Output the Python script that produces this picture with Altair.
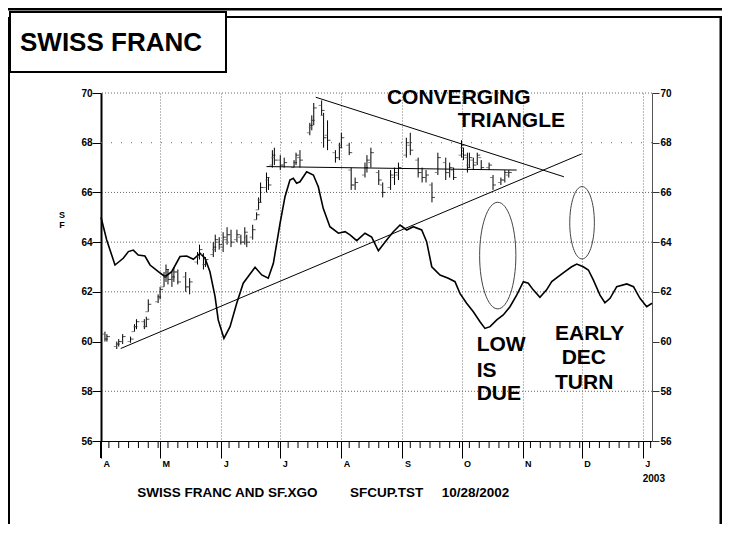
import altair as alt
import pandas as pd

BASE = pd.Timestamp("2002-04-01")


def to_dt(days):
    return [(BASE + pd.Timedelta(days=float(d))).strftime("%Y-%m-%dT%H:%M:%S") for d in days]


# ---------------- data ----------------
bar_day = [2, 3, 8, 9, 11, 15, 17, 18, 22, 23, 24, 29, 30, 32, 33, 34, 36, 37, 39, 43,
           45, 49, 50, 52, 53, 57, 58, 60, 62, 64, 66, 69, 71, 73, 74, 77, 79, 80, 81, 84,
           85, 87, 88, 91, 93, 98, 99, 101, 106, 107, 108, 112, 113, 115, 119, 121, 122, 126, 127, 129,
           134, 135, 137, 141, 143, 147, 149, 151, 155, 157, 161, 163, 165, 168, 171, 175, 177, 179, 183, 184,
           186, 187, 189, 191, 193, 197, 199, 203, 205, 207]
bar_high = [60.4, 60.3, 60.0, 60.1, 60.3, 60.2, 60.7, 60.9, 60.9, 61.0, 61.7, 61.9, 62.2, 62.8, 63.1, 62.9, 62.8, 63.0, 62.9, 62.8,
            62.55, 63.6, 63.9, 63.56, 63.4, 64.0, 64.3, 64.2, 64.4, 64.6, 64.5, 64.5, 64.3, 64.6, 64.3, 64.7, 65.2, 65.8, 66.4, 66.8,
            66.6, 67.7, 67.8, 67.5, 67.4, 67.3, 67.6, 67.7, 68.8, 69.1, 69.6, 69.7, 69.2, 68.9, 67.7, 68.0, 68.4, 68.0, 67.0, 66.6,
            67.2, 67.5, 67.8, 66.9, 66.4, 66.9, 67.0, 67.2, 68.2, 68.4, 67.4, 67.0, 66.9, 66.4, 67.6, 67.4, 67.2, 67.0, 68.1, 67.8,
            67.6, 67.6, 67.4, 67.6, 67.3, 67.2, 66.7, 66.6, 66.9, 66.9]
bar_low = [60.0, 60.0, 59.7, 59.8, 59.9, 59.95, 60.4, 60.5, 60.5, 60.6, 61.2, 61.55, 61.7, 62.2, 62.4, 62.3, 62.2, 62.4, 62.3, 62.0,
           61.9, 63.1, 63.3, 62.9, 63.0, 63.4, 63.6, 63.7, 63.6, 63.9, 63.8, 64.0, 63.9, 63.9, 63.8, 64.1, 64.9, 65.3, 65.6, 66.0,
           66.1, 67.0, 67.1, 66.9, 67.0, 67.0, 67.1, 67.0, 68.3, 68.5, 68.7, 69.1, 67.8, 67.7, 67.2, 67.3, 67.8, 67.5, 66.1, 66.1,
           66.6, 66.8, 67.0, 66.3, 65.8, 66.1, 66.3, 66.5, 67.4, 67.5, 66.6, 66.4, 66.4, 65.6, 66.7, 66.5, 66.6, 66.5, 67.4, 67.3,
           66.8, 67.0, 66.9, 67.1, 66.9, 66.9, 66.1, 66.3, 66.4, 66.6]
bar_open = [60.3, 60.1, 59.8, 59.9, 60.0, 60.0, 60.4, 60.6, 60.8, 60.6, 61.2, 61.6, 61.8, 62.2, 62.6, 62.8, 62.5, 62.5, 62.8, 62.6,
            62.2, 63.2, 63.4, 63.5, 63.1, 63.5, 63.7, 64.0, 63.8, 64.1, 64.3, 64.1, 64.2, 64.0, 64.2, 64.2, 64.9, 65.3, 65.7, 66.2,
            66.5, 67.1, 67.4, 67.3, 67.1, 67.0, 67.2, 67.4, 68.4, 68.6, 68.9, 69.5, 69.1, 68.3, 67.6, 67.4, 67.9, 67.9, 66.9, 66.3,
            66.7, 67.0, 67.2, 66.8, 66.3, 66.2, 66.6, 66.7, 67.5, 67.9, 67.3, 66.8, 66.6, 66.3, 66.8, 67.2, 66.8, 66.9, 67.5, 67.8,
            67.4, 67.1, 67.3, 67.2, 67.4, 67.0, 66.6, 66.4, 66.5, 66.7]
bar_close = [60.1, 60.2, 59.9, 60.0, 60.2, 60.1, 60.6, 60.8, 60.6, 60.9, 61.5, 61.8, 62.1, 62.6, 62.9, 62.5, 62.6, 62.8, 62.4, 62.2,
             62.4, 63.5, 63.7, 63.1, 63.3, 63.8, 64.1, 63.9, 64.2, 64.3, 64.0, 64.3, 64.0, 64.4, 64.0, 64.5, 65.1, 65.6, 66.2, 66.6,
             66.3, 67.5, 67.3, 67.1, 67.2, 67.2, 67.5, 67.3, 68.7, 68.9, 69.4, 69.3, 68.2, 68.1, 67.4, 67.8, 68.2, 67.6, 66.3, 66.4,
             67.0, 67.3, 67.6, 66.5, 66.0, 66.7, 66.8, 67.0, 68.0, 67.7, 66.8, 66.6, 66.7, 65.8, 67.4, 66.8, 67.0, 66.6, 67.9, 67.5,
             67.0, 67.4, 67.1, 67.5, 67.0, 67.1, 66.3, 66.5, 66.8, 66.8]

osc_day = [0, 2.9, 7.1, 11.3, 13.9, 16.4, 18.9, 22.3, 24.9, 29.1, 32.5, 35.9, 40.1, 43.5, 46.9, 50.3, 52.8, 55.3,
           57.9, 59.5, 62.4, 65.5, 68.9, 72.2, 78.2, 81.6, 84.9, 87.5, 90.9, 93.4, 95.9, 97.6, 99.3, 101.0, 104.4,
           107.8, 110.3, 112.8, 116.2, 120.5, 123.9, 126.4, 129.8, 134.0, 137.4, 140.8, 145.0, 148.4, 151.8, 155.2,
           158.5, 162.8, 165.3, 167.9, 172.1, 176.3, 179.7, 182.2, 185.6, 189.0, 192.4, 194.9, 197.5, 200.9, 204.2,
           207.6, 211.0, 214.4, 216.9, 219.4, 222.8, 226.2, 228.8, 232.1, 235.5, 238.9, 241.5, 244.8, 247.4, 249.9,
           253.3, 255.8, 258.4, 261.8, 266.9, 270.3, 273.6, 277.0, 279.7]
osc_val = [65.0, 64.09, 63.08, 63.35, 63.62, 63.68, 63.48, 63.44, 63.08, 62.81, 62.61, 62.81, 63.42, 63.44, 63.31, 63.55, 63.35, 62.81,
           61.81, 60.87, 60.13, 60.6, 61.54, 62.35, 62.99, 62.68, 62.55, 63.15, 64.76, 65.83, 66.5, 66.57, 66.37, 66.43, 66.83,
           66.70, 66.23, 65.36, 64.62, 64.36, 64.42, 64.29, 64.06, 64.36, 64.2, 63.65, 64.09, 64.42, 64.69, 64.49,
           64.62, 64.49, 64.02, 63.01, 62.68, 62.55, 62.41, 61.94, 61.54, 61.2, 60.8, 60.53, 60.6, 60.87, 61.07,
           61.4, 61.87, 62.41, 62.35, 62.08, 61.78, 62.08, 62.41, 62.61, 62.81, 63.01, 63.12, 63.01, 62.88, 62.48,
           61.87, 61.56, 61.74, 62.21, 62.32, 62.21, 61.74, 61.4, 61.54]

# hand-drawn trend lines (start/end)
rise_day = [10, 244]
rise_val = [59.72, 67.55]
fall_day = [109, 235]
fall_val = [69.83, 66.63]
flat_day = [84, 211]
flat_val = [67.04, 66.90]

# ellipse centres
ell1_day = [201.4]
ell1_val = [63.46]
ell2_day = [244.2]
ell2_val = [64.78]

y_ticks = [56, 58, 60, 62, 64, 66, 68, 70]
grid_dense = [58, 62, 64, 66, 70]
grid_sparse = [68]
month_list = [(2002, 4), (2002, 5), (2002, 6), (2002, 7), (2002, 8), (2002, 9),
              (2002, 10), (2002, 11), (2002, 12), (2003, 1)]
minor_days = [5, 10, 15, 20, 25, 30]
year_label = ["2003"]
year_label_date = ["2003-01-01T00:00:00"]

# ---------------- frames ----------------
FONT = "Liberation Sans"
W, H = 551, 348

bars = pd.DataFrame({"d": to_dt(bar_day), "hi": bar_high, "lo": bar_low,
                     "op": bar_open, "cl": bar_close})
osc = pd.DataFrame({"d": to_dt(osc_day), "v": osc_val})

minor_dates = []
for (yy, mm) in month_list:
    for dd in minor_days:
        try:
            ts = pd.Timestamp(year=yy, month=mm, day=dd)
        except ValueError:
            continue
        if ts <= pd.Timestamp("2003-01-05T16:00"):
            minor_dates.append(ts.strftime("%Y-%m-%dT%H:%M:%S"))
minor = pd.DataFrame({"d": minor_dates})

xscale = alt.Scale(domain=[alt.DateTime(year=2002, month=4, date=1),
                           alt.DateTime(year=2003, month=1, date=5, hours=16, minutes=48)])
yscale = alt.Scale(domain=[56, 70], nice=False, zero=False)

xaxis = alt.Axis(values=[alt.DateTime(year=yy, month=mm, date=1) for (yy, mm) in month_list],
                 labelExpr="upper(slice(timeFormat(datum.value, '%b'), 0, 1))",
                 labelAlign="left", labelBaseline="top", labelOffset=2, labelPadding=1,
                 labelFont=FONT, labelFontSize=9, labelFontWeight="bold", labelColor="black",
                 tickSize=17, tickColor="black", tickWidth=1,
                 domainColor="black", domainWidth=1,
                 grid=True, gridColor="#777", gridDash=[1, 2], gridWidth=1, title=None)

left_axis = alt.Axis(values=y_ticks, orient="left", tickSize=9, labelPadding=0,
                     labelFont=FONT, labelFontSize=10, labelFontWeight="bold", labelColor="black",
                     domainColor="black", domainWidth=2, tickColor="black", tickWidth=1,
                     grid=False, title=None)
right_axis = alt.Axis(values=y_ticks, orient="right", tickSize=7, labelPadding=1,
                      labelFont=FONT, labelFontSize=10, labelFontWeight="bold", labelColor="black",
                      domainColor="#555", domainWidth=1, tickColor="#333", tickWidth=1,
                      grid=False, title=None)

X = alt.X("d:T", scale=xscale, axis=xaxis)


def gridrules(vals, dash):
    return alt.Chart(pd.DataFrame({"g": vals})).mark_rule(
        color="#666", strokeWidth=1, strokeDash=dash).encode(
        y=alt.Y("g:Q", scale=yscale, axis=None))


def trend(days, vals):
    return alt.Chart(pd.DataFrame({"d": to_dt(days), "v": vals})).mark_line(
        color="black", strokeWidth=1).encode(x=X, y=alt.Y("v:Q", scale=yscale, axis=None))


def label(txt, x, y, size, align="left", baseline="middle"):
    return alt.Chart(pd.DataFrame({"t": [txt]})).mark_text(
        align=align, baseline=baseline, fontSize=size, fontWeight="bold",
        font=FONT, color="black").encode(text="t:N", x=alt.value(x), y=alt.value(y))


def prule(x, x2, y, y2, w):
    return alt.Chart(pd.DataFrame({"a": [0]})).mark_rule(
        color="black", strokeWidth=w).encode(
        x=alt.value(x), x2=alt.value(x2), y=alt.value(y), y2=alt.value(y2))


ELLIPSE = "M0,-1A0.34,1,0,1,1,0,1A0.34,1,0,1,1,0,-1Z"


def ellipse(days, vals, size):
    return alt.Chart(pd.DataFrame({"d": to_dt(days), "v": vals})).mark_point(
        shape=ELLIPSE, filled=False, stroke="#444", strokeWidth=1, size=size, opacity=1).encode(
        x=X, y=alt.Y("v:Q", scale=yscale, axis=None))


g1 = gridrules(grid_dense, [1, 2])
g2 = gridrules(grid_sparse, [1, 9])

minor_ticks = alt.Chart(minor).mark_rule(color="black", strokeWidth=1).encode(
    x=X, y=alt.value(H), y2=alt.value(H + 7))
left_ext = prule(0, 0, H, H + 17, 2)

osc_line = alt.Chart(osc).mark_line(color="black", strokeWidth=1.6).encode(
    x=X, y=alt.Y("v:Q", scale=yscale, axis=left_axis))

bar_rule = alt.Chart(bars).mark_rule(color="black", strokeWidth=1).encode(
    x=X, y=alt.Y("lo:Q", scale=yscale, axis=right_axis), y2="hi:Q")
close_tick = alt.Chart(bars).mark_tick(orient="horizontal", size=3, thickness=1,
                                       xOffset=1.5, color="black").encode(
    x=X, y=alt.Y("cl:Q", scale=yscale, axis=None))
open_tick = alt.Chart(bars).mark_tick(orient="horizontal", size=3, thickness=1,
                                      xOffset=-1.5, color="#555").encode(
    x=X, y=alt.Y("op:Q", scale=yscale, axis=None))

year_txt = alt.Chart(pd.DataFrame({"d": year_label_date, "t": year_label})).mark_text(
    align="left", baseline="alphabetic", fontSize=10, fontWeight="bold", font=FONT,
    color="black").encode(x=X, y=alt.value(388.7), text="t:N")

texts = [
    label("CONVERGING", 357.7, 4.5, 21, align="center"),
    label("TRIANGLE", 410.3, 28.3, 21, align="center"),
    label("LOW", 375.7, 252.3, 21),
    label("IS", 375.7, 277.8, 21),
    label("DUE", 375.7, 300.8, 21),
    label("EARLY", 454, 240.8, 21),
    label("DEC", 460.7, 265.3, 21),
    label("TURN", 454, 289.5, 21),
    label("S", -39, 121.5, 9, align="center"),
    label("F", -39, 132, 9, align="center"),
    label("SWISS FRANC AND SF.XGO", 36.3, 403.7, 13.5, baseline="alphabetic"),
    label("SFCUP.TST", 249, 403.7, 13.5, baseline="alphabetic"),
    label("10/28/2002", 340.7, 403.7, 13.5, baseline="alphabetic"),
]

frame = [
    prule(-93, 621, -84, -84, 3),
    prule(125, 621, -76, -76, 2),
    prule(-92, -92, -76, H + 83, 2),
    prule(620, 620, -76, H + 83, 3),
]
title_box = alt.Chart(pd.DataFrame({"a": [0]})).mark_rect(
    fill="white", stroke="black", strokeWidth=2).encode(
    x=alt.value(-91), x2=alt.value(125), y=alt.value(-81), y2=alt.value(-21))
title_txt = label("SWISS FRANC", -81, -42, 26, baseline="alphabetic")

chart = alt.layer(
    g1, g2, minor_ticks, left_ext,
    osc_line, bar_rule,
    close_tick, open_tick,
    trend(rise_day, rise_val), trend(fall_day, fall_val), trend(flat_day, flat_val),
    ellipse(ell1_day, ell1_val, 11364), ellipse(ell2_day, ell2_val, 5242),
    year_txt,
    *texts, *frame, title_box, title_txt,
).resolve_axis(y="independent").properties(
    width=W, height=H,
    autosize=alt.AutoSizeParams(type="none"),
    padding={"left": 93, "top": 85, "right": 70, "bottom": 83},
    background="white",
).configure_view(stroke=None)

chart.save("out.html", embed_options={"renderer": "svg", "actions": False})
